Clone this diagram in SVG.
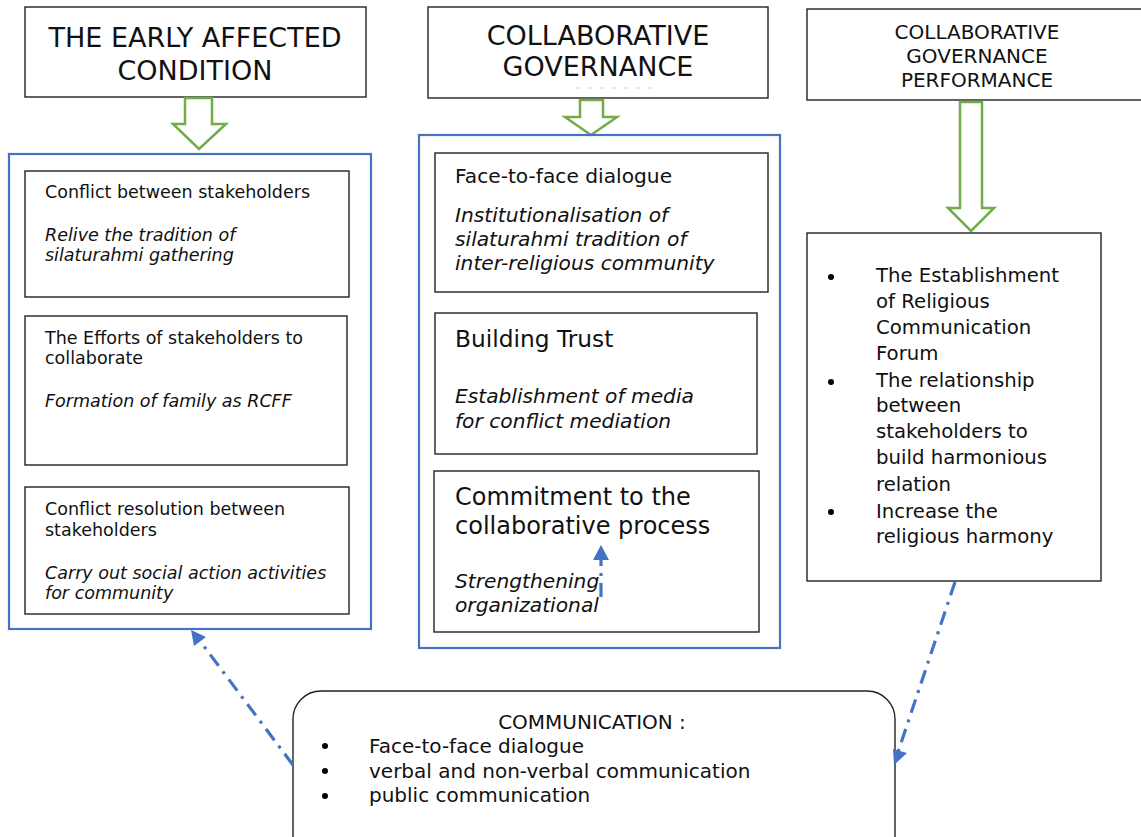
<svg xmlns="http://www.w3.org/2000/svg" width="1141" height="837" viewBox="0 0 1141 837">
  <style>
    .box { fill: #ffffff; stroke: #222222; stroke-width: 1.4; }
    .panel { fill: none; stroke: #4472C4; stroke-width: 2.2; }
    .flow { fill: #ffffff; stroke: #70AD47; stroke-width: 2.5; stroke-linejoin: miter; }
    .link { fill: none; stroke: #4472C4; stroke-width: 3.2; stroke-dasharray: 14 7 3 7; }
    text { font-family: "DejaVu Sans", Verdana, sans-serif; fill: #111111; }
    .head { font-size: 27px; text-anchor: middle; }
    .head-s { font-size: 20px; text-anchor: middle; }
    .t17 { font-size: 17.5px; }
    .t19 { font-size: 19.7px; }
    .t20m { font-size: 20.2px; }
    .t23 { font-size: 23.3px; }
    .t24 { font-size: 24px; }
    .t20 { font-size: 20px; }
    .it { font-style: italic; }
    .dot { fill: #000000; }
  </style>

  <!-- Column 1: early affected condition -->
  <g id="early-condition">
    <rect class="box" x="25" y="7" width="341" height="90"/>
    <text class="head" x="195" y="47">THE EARLY AFFECTED</text>
    <text class="head" x="195" y="80">CONDITION</text>
  </g>
  <g id="flow-1">
    <path class="flow" d="M185,98 H212 V124 H226 L199,149 L173,124 H185 Z"/>
  </g>
  <g id="early-panel">
    <rect class="panel" x="9" y="154" width="362" height="475"/>
  </g>
  <g id="conflict">
    <rect class="box" x="25" y="171" width="324" height="126"/>
    <text class="t17" x="45" y="198">Conflict between stakeholders</text>
    <text class="t17 it" x="45" y="241">Relive the tradition of</text>
    <text class="t17 it" x="45" y="261">silaturahmi gathering</text>
  </g>
  <g id="efforts">
    <rect class="box" x="25" y="316" width="322" height="149"/>
    <text class="t17" x="45" y="344">The Efforts of stakeholders to</text>
    <text class="t17" x="45" y="364">collaborate</text>
    <text class="t17 it" x="45" y="407">Formation of family as RCFF</text>
  </g>
  <g id="resolution">
    <rect class="box" x="25" y="487" width="324" height="127"/>
    <text class="t17" x="45" y="515">Conflict resolution between</text>
    <text class="t17" x="45" y="536">stakeholders</text>
    <text class="t17 it" x="45" y="579">Carry out social action activities</text>
    <text class="t17 it" x="45" y="599">for community</text>
  </g>

  <!-- Column 2: collaborative governance -->
  <g id="governance">
    <rect class="box" x="428" y="7" width="340" height="91"/>
    <text class="head" x="598" y="45">COLLABORATIVE</text>
    <text class="head" x="598" y="76">GOVERNANCE</text>
    <line x1="576" y1="88" x2="656" y2="88" stroke="#e2e2e2" stroke-width="1.5" stroke-dasharray="4 8"/>
  </g>
  <g id="flow-2">
    <path class="flow" d="M580,100 H603 V117 H617 L591,135 L565,117 H580 Z"/>
  </g>
  <g id="governance-panel">
    <rect class="panel" x="419" y="135" width="361" height="513"/>
  </g>
  <g id="dialogue">
    <rect class="box" x="435" y="153" width="333" height="139"/>
    <text class="t20m" x="455" y="183">Face-to-face dialogue</text>
    <text class="t20m it" x="455" y="222">Institutionalisation of</text>
    <text class="t20m it" x="455" y="246">silaturahmi tradition of</text>
    <text class="t20m it" x="455" y="270">inter-religious community</text>
  </g>
  <g id="trust">
    <rect class="box" x="435" y="313" width="322" height="141"/>
    <text class="t23" x="455" y="347">Building Trust</text>
    <text class="t20m it" x="455" y="403">Establishment of media</text>
    <text class="t20m it" x="455" y="428">for conflict mediation</text>
  </g>
  <g id="commitment">
    <rect class="box" x="434" y="471" width="325" height="161"/>
    <text class="t24" x="455" y="505">Commitment to the</text>
    <text class="t24" x="455" y="534">collaborative process</text>
    <text class="t20m it" x="455" y="588">Strengthening</text>
    <text class="t20m it" x="455" y="612">organizational</text>
  </g>

  <!-- Column 3: governance performance -->
  <g id="performance">
    <rect class="box" x="807" y="9" width="340" height="91"/>
    <text class="head-s" x="977" y="39">COLLABORATIVE</text>
    <text class="head-s" x="977" y="63">GOVERNANCE</text>
    <text class="head-s" x="977" y="87">PERFORMANCE</text>
  </g>
  <g id="flow-3">
    <path class="flow" d="M960,102 H982 V208 H994 L971,231 L948,208 H960 Z"/>
  </g>
  <g id="outcomes">
    <rect class="box" x="807" y="233" width="294" height="348"/>
    <circle class="dot" cx="831" cy="277" r="3"/>
    <circle class="dot" cx="831" cy="382" r="3"/>
    <circle class="dot" cx="831" cy="512" r="3"/>
    <text class="t19" x="876" y="282">The Establishment</text>
    <text class="t19" x="876" y="308">of Religious</text>
    <text class="t19" x="876" y="334">Communication</text>
    <text class="t19" x="876" y="360">Forum</text>
    <text class="t19" x="876" y="387">The relationship</text>
    <text class="t19" x="876" y="412">between</text>
    <text class="t19" x="876" y="438">stakeholders to</text>
    <text class="t19" x="876" y="464">build harmonious</text>
    <text class="t19" x="876" y="491">relation</text>
    <text class="t19" x="876" y="518">Increase the</text>
    <text class="t19" x="876" y="543">religious harmony</text>
  </g>

  <!-- Communication -->
  <g id="communication">
    <rect class="box" x="293" y="691" width="602" height="180" rx="28" ry="28"/>
    <text class="t20" x="592" y="729" text-anchor="middle">COMMUNICATION :</text>
    <circle class="dot" cx="325" cy="746" r="3"/>
    <circle class="dot" cx="325" cy="771" r="3"/>
    <circle class="dot" cx="325" cy="796" r="3"/>
    <text class="t20" x="369" y="753">Face-to-face dialogue</text>
    <text class="t20" x="369" y="778">verbal and non-verbal communication</text>
    <text class="t20" x="369" y="802">public communication</text>
  </g>

  <!-- Connectors: dash-dot links with filled triangular heads -->
  <g id="connectors">
    <path class="link" d="M293,765 L200,641"/>
    <path d="M191,630 L206,637 L194,646 Z" fill="#4472C4"/>
    <path class="link" d="M955,582 L898,752"/>
    <path d="M894,765 L893,749 L907,753 Z" fill="#4472C4"/>
    <path class="link" d="M601,597 L601,560" stroke-dasharray="15 12 3 6"/>
    <path d="M601,545 L609,560 L593,560 Z" fill="#4472C4"/>
  </g>
</svg>
